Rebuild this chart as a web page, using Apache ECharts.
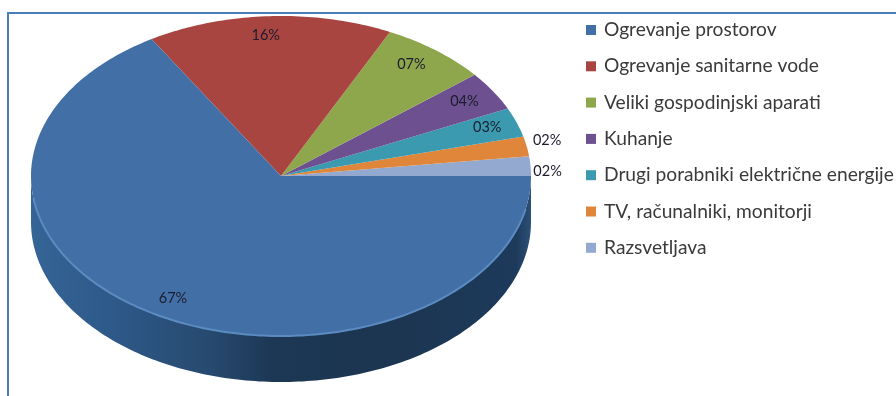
<!DOCTYPE html>
<html>
<head>
<meta charset="utf-8">
<style>html,body{margin:0;padding:0;background:#fff}#c{width:896px;height:396px}</style>
<script src="https://cdn.jsdelivr.net/npm/echarts@6/dist/echarts.min.js"></script>
</head>
<body>
<div id="c"></div>
<script>
const categories = ['Ogrevanje prostorov','Ogrevanje sanitarne vode','Veliki gospodinjski aparati','Kuhanje','Drugi porabniki električne energije','TV, računalniki, monitorji','Razsvetljava'];
const shares = [67,16,7,4,3,2,2];
const percentLabels = ['67%','16%','07%','04%','03%','02%','02%'];
const colors = ['#4270a6','#a94541','#8ea64c','#6c5090','#3b9ab0','#df863a','#94a9d0'];

const pie = {cx:281, cy:176, rx:250, ry:160, depth:46, labelK:0.88};
const labelNudge = [[0,0],[-5,0],[-6,-1],[-3,0],[-1,-1],[50,-10],[47,4]];
const total = shares.reduce((a,b)=>a+b,0);

function pt(deg,k=1,dy=0){
  const t=deg*Math.PI/180;
  return [pie.cx+pie.rx*k*Math.cos(t), pie.cy+pie.ry*k*Math.sin(t)+dy];
}
function arc(a,b,dy=0){
  const out=[], n=Math.max(2,Math.ceil(Math.abs(b-a)));
  for(let i=0;i<=n;i++) out.push(pt(a+(b-a)*i/n,1,dy));
  return out;
}
function makeRender(idx){
  return function(params,api){
    const before=shares.slice(0,idx).reduce((a,b)=>a+b,0);
    const start=before/total*360, end=start+api.value(0)/total*360;
    const children=[];
    const wallEnd=Math.min(end,180);
    if(start<180){
      const top=arc(start,wallEnd), bottom=arc(wallEnd,start,pie.depth);
      children.push({type:'polygon',shape:{points:top.concat(bottom)},style:{fill:{type:'linear',x:0,y:0,x2:1,y2:0,colorStops:[
        {offset:1,color:'#2b5078'},{offset:0.97,color:'#1d3a5b'},{offset:0.7,color:'#1c3550'},
        {offset:0.48,color:'#1c3855'},{offset:0.36,color:'#27496f'},{offset:0.15,color:'#2e5a8a'},{offset:0,color:'#356496'}]}}});
    }
    children.push({type:'polygon',shape:{points:[[pie.cx,pie.cy]].concat(arc(start,end))},style:{fill:api.visual('color')}});
    if(start<180){
      children.push({type:'polyline',shape:{points:arc(Math.max(start,12),Math.min(wallEnd,172))},style:{fill:null,stroke:'#5c8bc2',lineWidth:2}});
    }
    const mid=(start+end)/2, p=pt(mid,pie.labelK), nudge=labelNudge[idx];
    children.push({type:'text',z2:10,style:{x:p[0]+nudge[0],y:p[1]+nudge[1],text:percentLabels[idx],fill:'#1c1c2c',font:'14.5px Lato',align:'center',verticalAlign:'middle'}});
    return {type:'group',children};
  };
}
const chart=echarts.init(document.getElementById('c'),null,{renderer:'canvas'});
chart.setOption({
  animation:false,
  backgroundColor:'#ffffff',
  legend:{
    orient:'vertical',left:581,top:14,itemWidth:10,itemHeight:10,itemGap:14.3,icon:'rect',selectedMode:false,
    textStyle:{fontFamily:'Lato',fontSize:19.2,color:'#3a3a3a',lineHeight:22,padding:[0,0,0,3]},
    data:categories
  },
  graphic:[
    {type:'line',silent:true,shape:{x1:7,y1:13,x2:896,y2:13},style:{stroke:'#4a7ebb',lineWidth:2}},
    {type:'line',silent:true,shape:{x1:8,y1:13,x2:8,y2:396},style:{stroke:'#4a7ebb',lineWidth:2}}
  ],
  series:categories.map((name,i)=>({
    type:'custom',name,coordinateSystem:'none',silent:true,clip:false,
    z:categories.length-i,
    itemStyle:{color:colors[i]},
    data:[[shares[i]]],
    renderItem:makeRender(i)
  }))
});
</script>
</body>
</html>
